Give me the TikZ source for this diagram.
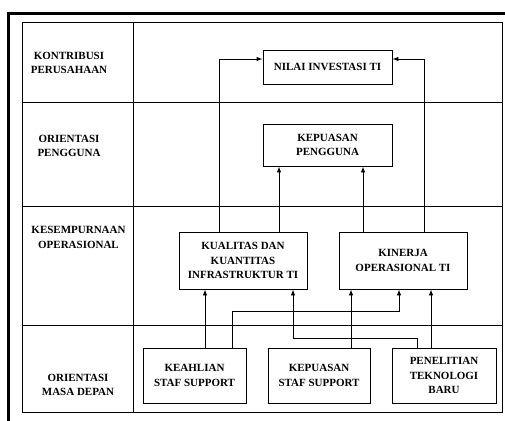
\documentclass[tikz,border=0pt]{standalone}
\usepackage{fontspec}
\setmainfont{Liberation Serif}
\usetikzlibrary{calc}
\usetikzlibrary{arrows.meta}

\tikzset{
    box/.style={draw, inner sep=0pt, align=center, minimum height=#1},
    box/.default={34pt},
    lbl/.style={align=center},
    arr/.style={-{Latex[length=6pt,width=4.5pt]}}
}

\begin{document}
\begin{tikzpicture}[x=1pt, y=-1pt, line width=0.9pt,
    font=\bfseries\fontsize{11}{14.5}\selectfont]
            \useasboundingbox (0,0) rectangle (505,420);

            % Define the columns of the connectors
            \coordinate (xa) at (205,0);
            \coordinate (xb) at (219,0);
            \coordinate (xc) at (232,0);
            \coordinate (xd) at (279,0);
            \coordinate (xe) at (293,0);
            \coordinate (xf) at (351,0);
            \coordinate (xg) at (363,0);
            \coordinate (xh) at (399,0);
            \coordinate (xi) at (417,0);
            \coordinate (xj) at (424,0);
            \coordinate (xk) at (431,0);
            \coordinate (ya) at (0,311);
            \coordinate (yb) at (0,338);

            % Draw the outer frame
            \draw[line width=3pt] (8.5,425) -- (8.5,14) -- (510,14);

            % Draw the table
            \draw (22,22.5) rectangle (502.5,412);
            \draw (133,22.5) -- (133,412);
            \draw (22,102.5) -- (502.5,102.5);
            \draw (22,206.5) -- (502.5,206.5);
            \draw (22,325) -- (502.5,325);

            % Draw the row labels
            \node[lbl] (kontribusi) at (69,63) {KONTRIBUSI\\PERUSAHAAN};
            \node[lbl] (pengguna) at (69,146) {ORIENTASI\\PENGGUNA};
            \node[lbl] (operasional) at (78.5,237.5) {KESEMPURNAAN\\OPERASIONAL};
            \node[lbl] (masadepan) at (78,385) {ORIENTASI\\MASA DEPAN};

            % Draw the boxes
            \node[box, minimum width=129pt] (nilai) at (327.5,67) {NILAI INVESTASI TI};
            \node[box=42pt, minimum width=129pt] (kepuasanP) at (327.5,145) {KEPUASAN\\PENGGUNA};
            \node[box=57pt, minimum width=128pt] (kualitas) at (243,260.5) {KUALITAS DAN\\KUANTITAS\\INFRASTRUKTUR TI};
            \node[box=57pt, minimum width=128pt] (kinerja) at (403,260.5) {KINERJA\\OPERASIONAL TI};
            \node[box=55pt, minimum width=103pt] (keahlian) at (194.5,375.5) {KEAHLIAN\\STAF SUPPORT};
            \node[box=55pt, minimum width=102pt] (kepuasanS) at (319,375.5) {KEPUASAN\\STAF SUPPORT};
            \node[box=55pt, minimum width=104pt] (penelitian) at (444,375.5) {PENELITIAN\\TEKNOLOGI\\BARU};

            % Draw the connectors
            \draw[arr] (xb |- kualitas.north) |- ($(nilai.west)+(0,-8)$);
            \draw[arr] (xj |- kinerja.north) |- ($(nilai.east)+(0,-8)$);
            \draw[arr] (xd |- kualitas.north) -- (xd |- kepuasanP.south);
            \draw[arr] (xg |- kinerja.north) -- (xg |- kepuasanP.south);
            \draw[arr] (xa |- keahlian.north) -- (xa |- kualitas.south);
            \draw[arr] (xc |- keahlian.north) -- (xc |- ya) -| (xh |- kinerja.south);
            \draw[arr] (xf |- kepuasanS.north) -- (xf |- kinerja.south);
            \draw[arr] (xi |- penelitian.north) -- (xi |- yb) -| (xe |- kualitas.south);
            \draw[arr] (xk |- penelitian.north) -- (xk |- kinerja.south);

        \end{tikzpicture}
\end{document}
